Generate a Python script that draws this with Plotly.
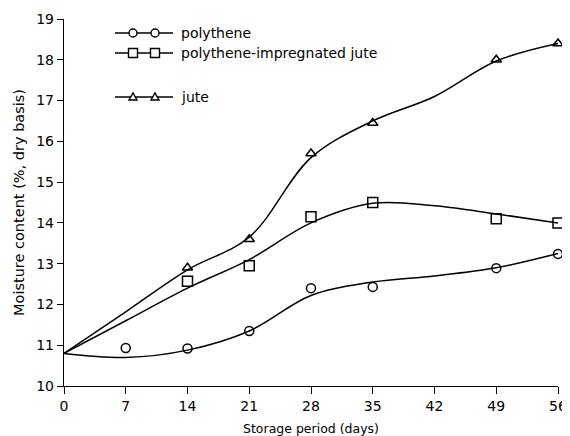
import plotly.graph_objects as go

# ---- data ----
curve_days = [0, 7, 14, 21, 28, 35, 42, 49, 56]
poly_curve = [10.8, 10.7, 10.88, 11.35, 12.22, 12.55, 12.7, 12.9, 13.25]
imp_curve = [10.8, 11.6, 12.4, 13.1, 14.0, 14.48, 14.42, 14.22, 14.0]
jute_curve = [10.8, 11.82, 12.85, 13.65, 15.6, 16.5, 17.1, 17.97, 18.4]

poly_days = [7, 14, 21, 28, 35, 49, 56]
poly_vals = [10.93, 10.92, 11.35, 12.4, 12.43, 12.89, 13.24]
imp_days = [14, 21, 28, 35, 49, 56]
imp_vals = [12.57, 12.95, 14.15, 14.5, 14.1, 14.0]
jute_days = [14, 21, 28, 35, 49, 56]
jute_vals = [12.9, 13.6, 15.7, 16.45, 18.0, 18.4]

x_ticks = [0, 7, 14, 21, 28, 35, 42, 49, 56]
y_ticks = [10, 11, 12, 13, 14, 15, 16, 17, 18, 19]

series_names = ["polythene", "polythene-impregnated jute", "jute"]
FONT = "DejaVu Sans, Liberation Sans, Arial, sans-serif"

# page body has a default 8px margin; size the figure so it fills the 570x436 window
BODY = 8
FW, FH = 570 - BODY, 436 - BODY
L, R, T, B = 56, 12, 11, 50
PLOT_X0, PLOT_Y1 = BODY + L, BODY + FH - B   # page pixel of x=0 and y=10

fig = go.Figure()
for ys in (poly_curve, imp_curve, jute_curve):
    fig.add_trace(go.Scatter(x=curve_days, y=ys, mode="lines",
                             line=dict(color="black", width=1.5, shape="spline", smoothing=1.0),
                             showlegend=False, hoverinfo="skip"))

for name, xs, ys, sym in [(series_names[0], poly_days, poly_vals, "circle-open"),
                          (series_names[1], imp_days, imp_vals, "square-open"),
                          (series_names[2], jute_days, jute_vals, "triangle-up-open")]:
    fig.add_trace(go.Scatter(x=xs, y=ys, mode="markers", name=name,
                             marker=dict(symbol=sym, size=9 if sym != "square-open" else 10,
                                         color="black", line=dict(color="black", width=1.5)),
                             cliponaxis=False, showlegend=False))

# ---- hand-drawn style legend (layout decorations placed in page pixels) ----
W, H = float(FW - L - R), float(FH - T - B)
def px(xp):
    return (xp - PLOT_X0) / W
def py(yp):
    return (PLOT_Y1 - yp) / H

shapes = []
annotations = []
rows = [33, 53, 97]
for i, (row, name) in enumerate(zip(rows, series_names)):
    shapes.append(dict(type="line", xref="paper", yref="paper",
                       x0=px(115), x1=px(173), y0=py(row), y1=py(row),
                       line=dict(color="black", width=1.5)))
    for cx in (133, 155):
        common = dict(xref="paper", yref="paper", xsizemode="pixel", ysizemode="pixel",
                      xanchor=px(cx), yanchor=py(row),
                      fillcolor="white", line=dict(color="black", width=1.4))
        if i == 0:
            shapes.append(dict(type="circle", x0=-4, x1=4, y0=-4, y1=4, **common))
        elif i == 1:
            shapes.append(dict(type="rect", x0=-4.5, x1=4.5, y0=-4.5, y1=4.5, **common))
        else:
            shapes.append(dict(type="path", path="M -4,-3 L 4,-3 L 0,4 Z", **common))
    annotations.append(dict(xref="paper", yref="paper", x=px(179), y=py(row),
                            xanchor="left", yanchor="middle", showarrow=False,
                            text=name, font=dict(family=FONT, size=14, color="black")))

fig.update_layout(
    width=FW, height=FH,
    margin=dict(l=L, r=R, t=T, b=B),
    paper_bgcolor="white", plot_bgcolor="white",
    font=dict(family=FONT, size=14, color="black"),
    showlegend=False,
    shapes=shapes, annotations=annotations,
    xaxis=dict(range=[0, 56], tickvals=x_ticks, ticktext=[str(v) for v in x_ticks],
               showgrid=False, zeroline=False, showline=True, linecolor="black", linewidth=1.4,
               ticks="outside", ticklen=7, tickcolor="black", tickwidth=1.2,
               ticklabeloverflow="allow", automargin=False,
               tickfont=dict(family=FONT, size=14, color="black"),
               title=dict(text="Storage period (days)", standoff=11,
                          font=dict(family=FONT, size=12.5, color="black"))),
    yaxis=dict(range=[10, 19], tickvals=y_ticks, ticktext=[str(v) for v in y_ticks],
               showgrid=False, zeroline=False, showline=True, linecolor="black", linewidth=1.4,
               ticks="outside", ticklen=6, tickcolor="black", tickwidth=1.2,
               ticklabeloverflow="allow", automargin=False,
               tickfont=dict(family=FONT, size=14, color="black"),
               title=dict(text="Moisture content (%, dry basis)", standoff=8,
                          font=dict(family=FONT, size=14.5, color="black"))),
)

fig.write_html("out.html")
